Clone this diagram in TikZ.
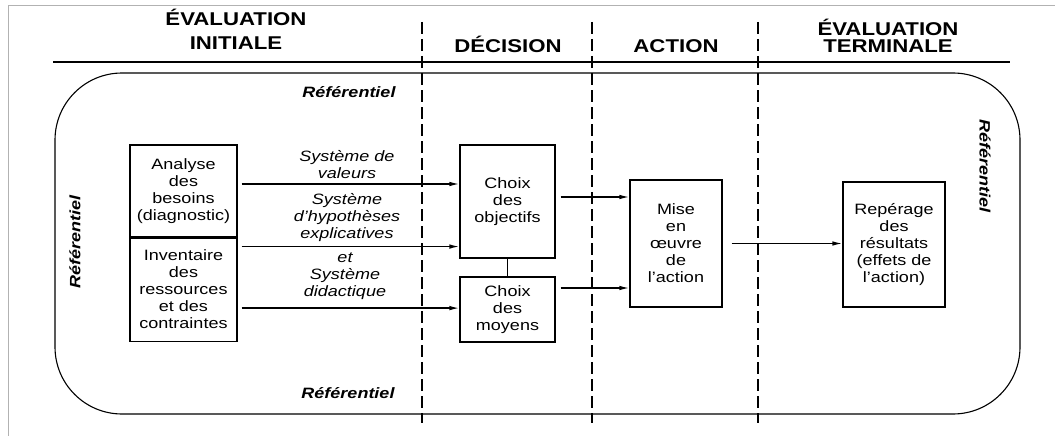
\documentclass[tikz,border=0pt]{standalone}
\usepackage{fontspec}
\setmainfont{Liberation Sans}[FakeStretch=1.2]
\usetikzlibrary{arrows.meta}

\begin{document}
\begin{tikzpicture}[x=1pt, y=-1pt,
    box/.style={draw, line width=1.1pt, align=center, inner sep=0pt, font=\fontsize{15}{17}\selectfont},
    arr/.style={line width=1.4pt, -{Latex[length=10pt, width=4.5pt]}},
    lab/.style={align=center, font=\fontsize{15}{17}\selectfont\itshape},
    refer/.style={font=\fontsize{15}{17}\selectfont\bfseries\itshape},
    head/.style={align=center, font=\fontsize{18.5}{24}\selectfont\bfseries},
    sep/.style={line width=1.8pt, dash pattern=on 12pt off 5pt}]
    \useasboundingbox (0,0) rectangle (1055,436);
    % frame
    \draw[gray!60, line width=1pt] (8,436) -- (8,6) -- (1055,6);
    % header
    \node[head] (hinit) at (236,29.5) {ÉVALUATION\\INITIALE};
    \node[head, anchor=base] (hdec) at (508,53) {DÉCISION};
    \node[head, anchor=base] (hact) at (676,53) {ACTION};
    \node[head, font=\fontsize{18.5}{17}\selectfont\bfseries] (hterm) at (888,35.5) {ÉVALUATION\\TERMINALE};
    \draw[line width=2.5pt] (53,62) -- (1010,62);
    % referentiel
    \draw[line width=1.1pt, rounded corners=67pt] (55,73) rectangle (1020,414);
    \node[refer] (reftop) at (349,92) {Référentiel};
    \node[refer] (refbot) at (348,393) {Référentiel};
    \node[refer, rotate=90] (refleft) at (75,242) {Référentiel};
    \node[refer, rotate=-90] (refright) at (985,166) {Référentiel};
    % phases
    \foreach \x in {422,592,758}
        \draw[sep] (\x,22) -- (\x,423);
    % boxes
    \node[box, minimum width=107pt, minimum height=92pt] (analyse) at (183.5,191) {Analyse\\des\\besoins\\(diagnostic)};
    \node[box, minimum width=107pt, minimum height=103pt, anchor=north] (inventaire) at (analyse.south) {Inventaire\\des\\ressources\\et des\\contraintes};
    \node[box, minimum width=95pt, minimum height=113pt] (objectifs) at (507.5,201.5) {Choix\\des\\objectifs};
    \node[box, minimum width=95pt, minimum height=65pt] (moyens) at (507.5,309.5) {Choix\\des\\moyens};
    \node[box, minimum width=92pt, minimum height=127pt] (mise) at (676,243.5) {Mise\\en\\œuvre\\de\\l’action};
    \node[box, minimum width=102pt, minimum height=125pt] (reperage) at (894,244.5) {Repérage\\des\\résultats\\(effets de\\l’action)};
    % labels
    \node[lab] (valeurs) at (347,164.5) {Système de\\valeurs};
    \node[lab] (hypotheses) at (347,218) {Système\\d’hypothèses\\explicatives};
    \node[lab] (didactique) at (345,276.5) {et\\Système\\didactique};
    % arrows
    \coordinate (s1) at ([shift={(4,-7)}]analyse.east);
    \coordinate (s2) at ([shift={(4,9)}]analyse.south east);
    \coordinate (s3) at ([shift={(4,18.5)}]inventaire.east);
    \coordinate (s4) at ([shift={(5,-4.5)}]objectifs.east);
    \coordinate (s5) at ([shift={(5,-21.5)}]moyens.east);
    \coordinate (s6) at ([shift={(9,0)}]mise.east);
    \draw[arr] (s1) -- (s1 -| objectifs.west);
    \draw[arr] (s2) -- (s2 -| objectifs.west);
    \draw[arr] (s3) -- (s3 -| moyens.west);
    \draw[arr] (s4) -- (s4 -| mise.west);
    \draw[arr] (s5) -- (s5 -| mise.west);
    \draw[arr] (s6) -- (s6 -| reperage.west);
    \draw[line width=1.1pt] (objectifs) -- (moyens);
\end{tikzpicture}
\end{document}
